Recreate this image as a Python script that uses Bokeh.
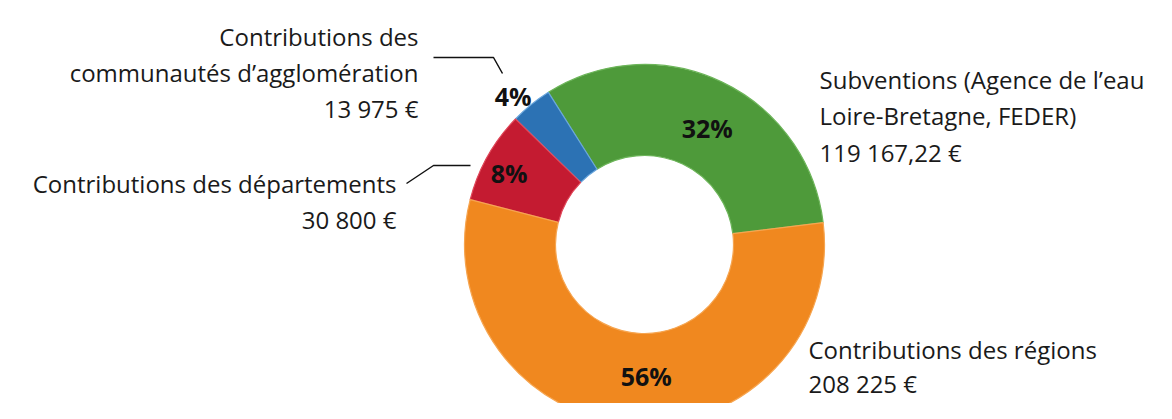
import math
from bokeh.plotting import figure
from bokeh.models import Range1d
from bokeh.core.properties import value
from bokeh.embed import file_html
from bokeh.resources import INLINE

# ---- data (counter-clockwise order starting at the right) ----
categories = ["Subventions (Agence de l’eau Loire-Bretagne, FEDER)",
              "Contributions des communautés d’agglomération",
              "Contributions des départements",
              "Contributions des régions"]
amounts = [119167.22, 13975, 30800, 208225]
amount_labels = ["119 167,22 €", "13 975 €", "30 800 €", "208 225 €"]
pct_labels = ["32%", "4%", "8%", "56%"]

# ---- style ----
W, H = 1156, 403
FONT = "Open Sans"
colors = ["#4e9a3a", "#2c72b4", "#c41b31", "#f0881f"]
edge_colors = ["#6db55a", "#6aa6dc", "#e0485a", "#f6a550"]
start_deg = 7.0
CX, CY = 644, 244          # pixel position of the ring centre
R_OUT, R_IN = 180, 89

def Y(py):
    return H - py

p = figure(width=W, height=H, output_backend="svg", toolbar_location=None,
           x_range=Range1d(0, W), y_range=Range1d(0, H),
           x_axis_location=None, y_axis_location=None, min_border=0,
           background_fill_color="white", border_fill_color="white")
p.outline_line_color = None
p.grid.visible = False

total = sum(amounts)
starts, ends = [], []
a = math.radians(start_deg)
for v in amounts:
    span = 2 * math.pi * v / total
    starts.append(a)
    ends.append(a + span)
    a += span

p.annular_wedge(x=[CX] * 4, y=[Y(CY)] * 4, inner_radius=R_IN, outer_radius=R_OUT,
                start_angle=starts, end_angle=ends, fill_color=colors,
                line_color=edge_colors, line_width=1.2)

# percentage labels: (radius, angle tweak in degrees) per slice
pct_pos = [(132, -3.0), (198, 2.5), (153, 1.5), (132, 4.5)]
for i, lab in enumerate(pct_labels):
    mid = (starts[i] + ends[i]) / 2 + math.radians(pct_pos[i][1])
    r = pct_pos[i][0]
    p.text(x=[CX + r * math.cos(mid)], y=[Y(CY) + r * math.sin(mid)], text=[lab],
           text_font=value(FONT), text_font_style="bold", text_font_size="25px",
           text_align="center", text_baseline="middle", text_color="#111111")

FS = "24px"
def lines(xs, baselines, texts, align):
    p.text(x=[xs] * len(texts), y=[Y(b) for b in baselines], text=texts,
           text_font=value(FONT), text_font_size=FS, text_align=align,
           text_baseline="alphabetic", text_color="#1a1a1a")

# category labels
lines(819, [79, 115, 152], ["Subventions (Agence de l’eau", "Loire-Bretagne, FEDER)", amount_labels[0]], "left")
lines(418, [36, 72, 108], ["Contributions des", "communautés d’agglomération", amount_labels[1]], "right")
lines(396, [183, 219], ["Contributions des départements", amount_labels[2]], "right")
lines(808, [349, 383], ["Contributions des régions", amount_labels[3]], "left")

# leader lines
p.line(x=[433, 493, 502], y=[Y(57), Y(57), Y(73)], line_color="#111111", line_width=1.5)
p.line(x=[406, 433, 470], y=[Y(183), Y(165), Y(165)], line_color="#111111", line_width=1.5)

open("out.html", "w").write(file_html(p, INLINE))
